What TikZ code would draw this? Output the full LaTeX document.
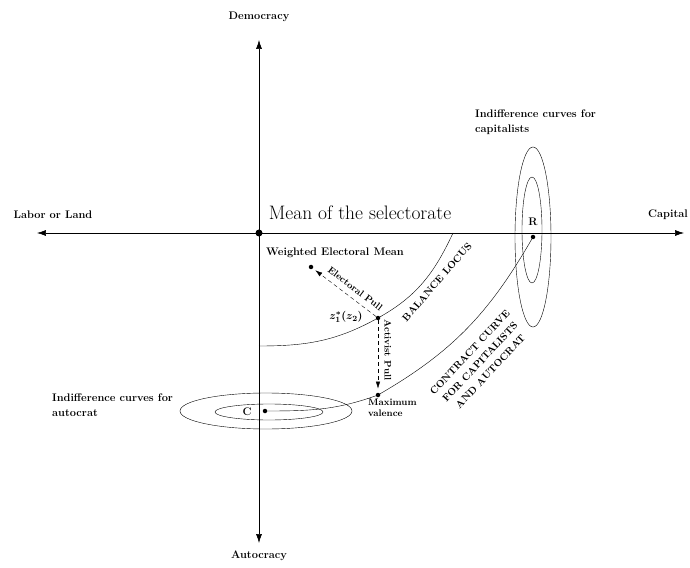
\documentclass[tikz,border=0pt]{standalone}
\usepackage{fontspec}
\usepackage{amsmath}
\usetikzlibrary{arrows.meta}

\tikzstyle{lbl} = [font=\fontsize{11}{15}\selectfont\bfseries, inner sep=0pt]
\tikzstyle{small} = [font=\fontsize{9.5}{11}\selectfont\bfseries, inner sep=0pt]
\tikzstyle{caps} = [font=\fontsize{10}{14}\selectfont\bfseries, inner sep=0pt, align=center]
\tikzstyle{dot} = [circle, fill, inner sep=0pt, minimum size=4.5pt]
\tikzstyle{axis} = [line width=0.6pt, {Latex[length=9pt,width=6pt]}-{Latex[length=9pt,width=6pt]}]
\tikzstyle{pull} = [dash pattern=on 4pt off 3pt, -{Latex[length=7pt,width=4.5pt]}]

\begin{document}
\begin{tikzpicture}[x=1pt, y=1pt]
        \useasboundingbox (-259,-334) rectangle (431,233);
        % Axes and their labels
        \coordinate (top) at (0,193);
        \coordinate (bottom) at (0,-310);
        \coordinate (left) at (-222,0);
        \coordinate (right) at (425,0);
        \draw[axis] (bottom) -- (top);
        \draw[axis] (left) -- (right);
        \node (origin) at (0,0) [dot, minimum size=7pt] {};
        \node (demo) at (0,216) [lbl] {Democracy};
        \node (auto) at (0,-323) [lbl] {Autocracy};
        \node (labor) at (-206,18) [lbl] {Labor or Land};
        \node (capital) at (409,18) [lbl] {Capital};
        \node (mean) at (101,13) [anchor=base, inner sep=0pt, font=\fontsize{19.5}{22}\selectfont] {Mean of the selectorate};

        % Balance locus
        \coordinate (bl0) at (0,-113);
        \coordinate (bl1) at (194,0);
        \node (zstar) at (119,-85) [dot] {};
        \draw (bl0) to[out=0,in=209] (zstar.center) to[out=29,in=245] (bl1);
        \node (zlabel) at (87,-84) [lbl] {$\boldsymbol{z_1^{*}(z_2)}$};
        \node (blabel) at (178,-49) [caps, rotate=49] {BALANCE LOCUS};

        % Pulls
        \node (wem) at (52,-34) [dot] {};
        \node (wemlabel) at (76,-20) [lbl] {Weighted Electoral Mean};
        \node (mv) at (119,-162) [dot] {};
        \node (mvlabel) at (109,-166) [small, anchor=north west, align=left] {Maximum\\valence};
        \draw[pull, shorten >=3pt] (zstar) -- node[pos=0.42, sloped, above=6pt, small] {Electoral Pull} (wem);
        \draw[pull, shorten >=4pt] (zstar) -- (mv);
        \node (alabel) at (129,-117) [small, rotate=-90] {Activist Pull};

        % Indifference curves
        \node (cdot) at (6,-178) [dot] {};
        \node (clabel) at (-12,-179) [lbl] {C};
        \draw (7,-178) ellipse [x radius=86pt, y radius=18pt];
        \draw (10,-179) ellipse [x radius=54pt, y radius=8pt];
        \node (ilabel1) at (-207,-172) [lbl, anchor=west, align=left] {Indifference curves for\\autocrat};
        \node (rdot) at (274,-4) [dot] {};
        \node (rlabel) at (274,11) [lbl] {R};
        \draw (274,-4) ellipse [x radius=18pt, y radius=90pt];
        \draw (273,3) ellipse [x radius=10pt, y radius=53pt];
        \node (ilabel2) at (216,111) [lbl, anchor=west, align=left] {Indifference curves for\\capitalists};

        % Contract curve
        \draw (cdot.center) to[out=0,in=200] (mv.center) to[out=30,in=240] (rdot);
        \node (clabel2) at (221,-129) [caps, rotate=47] {CONTRACT CURVE\\FOR CAPITALISTS\\AND AUTOCRAT};
\end{tikzpicture}
\end{document}
